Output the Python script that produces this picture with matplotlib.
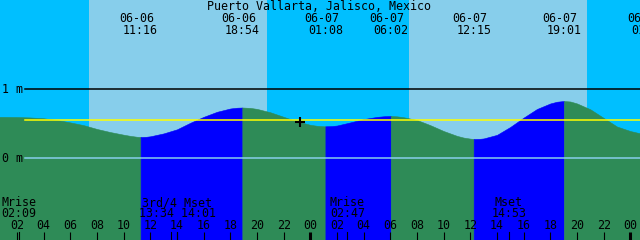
import numpy as np
import matplotlib
matplotlib.use('Agg')
import matplotlib.pyplot as plt
from matplotlib.transforms import blended_transform_factory

# time axis: hours counted from 06-06 00:00 local time, level in metres
hours = [0, 1, 2, 3, 4, 5, 6, 7, 8, 9, 10, 10.5, 11, 11.27, 11.7,
         12, 13, 14, 15, 16, 17, 18, 18.5, 18.9, 19.5,
         20, 21, 22, 23, 24, 24.5, 25, 25.13, 25.6,
         26, 27, 28, 29, 29.5, 30, 30.03, 30.5,
         31, 32, 33, 34, 35, 35.5, 36, 36.25, 36.7,
         37, 38, 39, 40, 41, 42, 42.5, 43, 43.02, 43.5,
         44, 45, 46, 47, 48, 49, 49.4, 50]
level = [0.600, 0.600, 0.598, 0.592, 0.580, 0.555, 0.520, 0.480, 0.425, 0.380, 0.342, 0.325, 0.312, 0.309, 0.312,
         0.319, 0.361, 0.420, 0.515, 0.601, 0.674, 0.722, 0.733, 0.736, 0.730,
         0.716, 0.667, 0.601, 0.535, 0.485, 0.471, 0.464, 0.464, 0.467,
         0.475, 0.520, 0.568, 0.600, 0.609, 0.613, 0.613, 0.608,
         0.595, 0.555, 0.480, 0.395, 0.325, 0.300, 0.285, 0.280, 0.282,
         0.288, 0.340, 0.455, 0.590, 0.715, 0.795, 0.820, 0.830, 0.830, 0.823,
         0.795, 0.710, 0.585, 0.460, 0.395, 0.350, 0.340, 0.345]

# high / low water events
tide_hours = [11.27, 18.9, 25.13, 30.03, 36.25, 43.02, 49.4]
tide_dates = ['06-06', '06-06', '06-07', '06-07', '06-07', '06-07', '06-08']
tide_clock = ['11:16', '18:54', '01:08', '06:02', '12:15', '19:01', '01:24']
tide_kind = ['low', 'high', 'low', 'high', 'low', 'high', 'low']

sunrise = [7.4, 31.4]
sunset = [20.75, 44.75]

# moon events (tick marks) and their captions
moon_hours = [2.15, 13.567, 14.017, 26.783, 38.883]
moon_names = ['Mrise', '3rd/4 Mset', 'Mrise', 'Mset']
moon_times = ['02:09', '13:34 14:01', '02:47', '14:53']
moon_text_at = [2.15, 14.02, 26.783, 38.883]

mean_level = 0.55
now_hour, now_level = 23.225, 0.526
title = 'Puerto Vallarta, Jalisco, Mexico'

t0 = 0.725            # left edge of the picture
px_per_hour = 640 / 48.0
m_per_px = 1 / 69.0
zero_px = 158.3

hours = np.array(hours)
level = np.array(level)

fig = plt.figure(figsize=(6.4, 2.4), dpi=100)
ax = fig.add_axes([0, 0, 1, 1])
ax.set_xlim(t0, t0 + 48)
ax.set_ylim((zero_px - 240) * m_per_px, zero_px * m_per_px)
ax.axis('off')
fig.patch.set_facecolor('#00BFFF')

trans = blended_transform_factory(ax.transData, ax.transAxes)


def ypix(p):
    return 1 - p / 240.0


def px_hours(p):
    return p / px_per_hour


mono = dict(family='DejaVu Sans Mono', fontsize=8.4, color='black')

# day light
for a, b in zip(sunrise, sunset):
    ax.axvspan(a, b, color='#87CEEB', lw=0, zorder=0)

# water: blue while rising, green while falling
edges = [hours[0]] + tide_hours + [hours[-1]]
kinds = ['high'] + tide_kind
bottom = ax.get_ylim()[0] - 1
for i in range(len(edges) - 1):
    m = (hours >= edges[i]) & (hours <= edges[i + 1])
    col = '#0000FF' if kinds[i] == 'low' else '#2E8B57'
    ax.fill_between(hours[m], bottom, level[m], color=col, lw=0.4, edgecolor=col, zorder=1)

# reference lines
ax.axhline(1, xmin=25 / 640, color='black', lw=1.1, zorder=2)
ax.axhline(0, xmin=25 / 640, color='#87CEEB', lw=1.1, zorder=2)
ax.axhline(mean_level, xmin=25 / 640, color='#FFFF00', lw=1.1, zorder=3)
ax.plot(now_hour, now_level, marker='+', color='black', ms=7, mew=1.5, zorder=4)

ax.text(t0 + px_hours(2), ypix(93.3), '1 m', ha='left', va='baseline', transform=trans, **mono)
ax.text(t0 + px_hours(2), ypix(161.7), '0 m', ha='left', va='baseline', transform=trans, **mono)

# header
ax.text(t0 + px_hours(319), ypix(10), title, ha='center', va='baseline', transform=trans, **mono)
for h, d, c in zip(tide_hours, tide_dates, tide_clock):
    ax.text(h - px_hours(4), ypix(22), d, ha='center', va='baseline', transform=trans, **mono)
    ax.text(h, ypix(34.3), c, ha='center', va='baseline', transform=trans, **mono)

# hour ticks along the bottom
for h in range(2, 49, 2):
    lw = 2.2 if h % 24 == 0 else 0.8
    ax.plot([h, h], [0, 8 / 240], color='black', lw=lw, transform=trans, zorder=5,
            solid_capstyle='butt')
    ax.text(h, ypix(229.3), f'{h % 24:02d}', ha='center', va='baseline', transform=trans, **mono)
for h in moon_hours:
    ax.plot([h, h], [0, 8 / 240], color='black', lw=0.8, transform=trans, zorder=5)

for x, n, c in zip(moon_text_at, moon_names, moon_times):
    ax.text(x, ypix(206), n, ha='center', va='baseline', transform=trans, **mono)
    ax.text(x, ypix(217.3), c, ha='center', va='baseline', transform=trans, **mono)

fig.savefig('out.png', dpi=100, facecolor=fig.get_facecolor())
